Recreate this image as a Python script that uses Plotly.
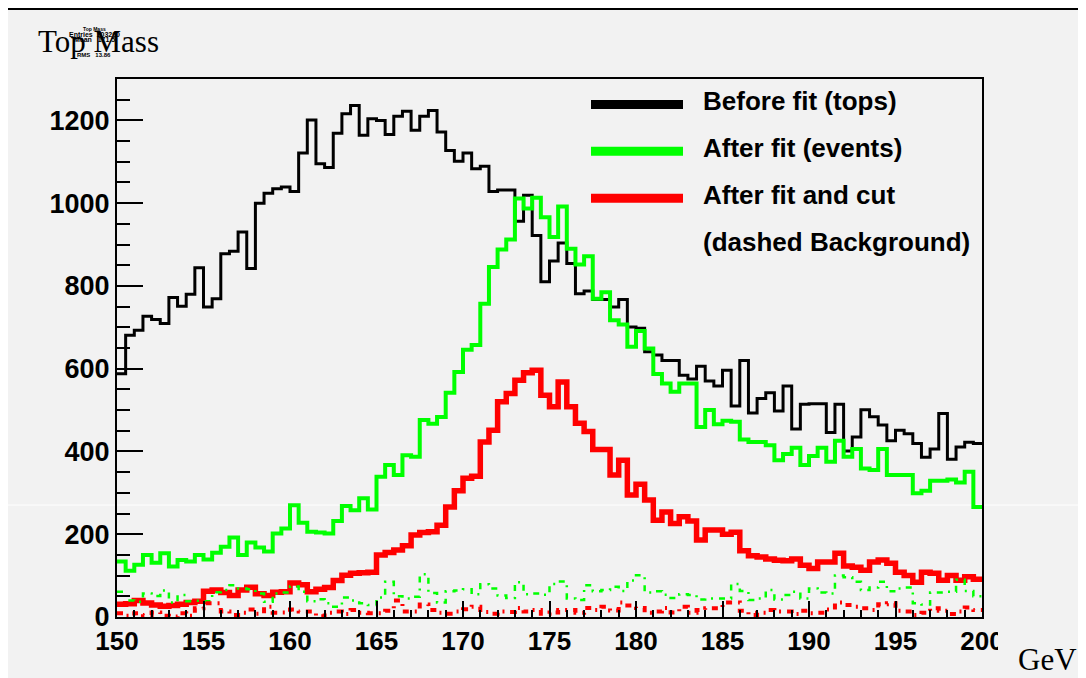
import plotly.graph_objects as go

# ---------------- data (100 bins of 0.5 GeV from 150 to 200) ----------------
x_min = 150.0
bin_width = 0.5

before_fit_tops = [588, 681, 693, 727, 719, 709, 772, 751, 780, 844,
                   749, 769, 878, 884, 930, 842, 1000, 1024, 1035, 1039,
                   1028, 1121, 1201, 1095, 1086, 1169, 1216, 1236, 1164, 1204,
                   1200, 1166, 1210, 1222, 1176, 1210, 1224, 1172, 1127, 1101,
                   1121, 1083, 1089, 1028, 1032, 1032, 956, 1019, 922, 810,
                   860, 904, 854, 781, 788, 767, 767, 749, 767, 701,
                   698, 641, 633, 620, 620, 584, 575, 606, 570, 558,
                   596, 510, 620, 493, 528, 542, 498, 558, 454, 514,
                   515, 515, 446, 514, 401, 435, 501, 484, 464, 426,
                   451, 443, 419, 386, 406, 492, 381, 411, 422, 419]

after_fit_events = [134, 112, 126, 150, 131, 154, 122, 138, 134, 150,
                    139, 155, 170, 192, 150, 180, 168, 158, 202, 214,
                    270, 228, 206, 204, 202, 232, 268, 258, 287, 260,
                    339, 367, 343, 391, 387, 476, 467, 483, 542, 592,
                    646, 657, 757, 846, 888, 912, 1011, 987, 1013, 966,
                    918, 992, 890, 852, 872, 769, 785, 717, 707, 653,
                    691, 649, 587, 564, 544, 564, 564, 459, 500, 466,
                    474, 472, 429, 423, 423, 415, 379, 394, 409, 367,
                    389, 409, 375, 426, 387, 406, 359, 355, 406, 343,
                    343, 343, 299, 305, 329, 329, 332, 325, 351, 266]

after_fit_and_cut = [31, 32, 40, 34, 29, 26, 28, 31, 35, 38,
                     62, 65, 59, 52, 65, 72, 56, 52, 60, 61,
                     82, 78, 61, 67, 71, 88, 101, 106, 107, 108,
                     150, 156, 162, 172, 198, 204, 206, 222, 266, 305,
                     335, 340, 423, 451, 520, 540, 572, 590, 596, 536,
                     508, 568, 508, 468, 448, 405, 405, 343, 379, 295,
                     321, 283, 234, 254, 226, 242, 232, 186, 210, 210,
                     200, 205, 160, 148, 145, 140, 137, 136, 140, 125,
                     117, 133, 133, 154, 123, 120, 113, 133, 138, 130,
                     108, 100, 84, 108, 106, 89, 100, 89, 97, 91]

events_background = [61, 40, 37, 57, 51, 64, 35, 53, 38, 39,
                     38, 60, 65, 77, 69, 67, 57, 37, 57, 59,
                     74, 61, 38, 43, 33, 25, 47, 40, 33, 29,
                     47, 85, 50, 45, 49, 103, 58, 35, 62, 64,
                     67, 55, 79, 69, 52, 46, 84, 55, 57, 54,
                     80, 86, 45, 41, 77, 62, 65, 73, 63, 88,
                     101, 59, 62, 54, 46, 55, 53, 42, 45, 45,
                     45, 80, 63, 41, 45, 65, 42, 53, 61, 45,
                     69, 59, 57, 100, 96, 85, 65, 71, 85, 62,
                     69, 71, 33, 30, 59, 59, 61, 90, 63, 50]

cut_background = [9, 3, 9, 5, 11, 3, 1, 9, 3, 21,
                  33, 33, 13, 5, 10, 18, 8, 25, 10, 11,
                  18, 13, 13, 2, 10, 13, 7, 17, 10, 9,
                  9, 15, 40, 13, 13, 30, 17, 10, 8, 13,
                  19, 25, 12, 8, 13, 12, 22, 13, 17, 8,
                  11, 17, 17, 10, 22, 17, 25, 16, 35, 28,
                  22, 10, 13, 22, 11, 25, 10, 17, 21, 21,
                  35, 35, 15, 5, 10, 17, 13, 13, 7, 15,
                  9, 10, 18, 35, 29, 25, 21, 17, 31, 33,
                  15, 13, 5, 10, 21, 15, 7, 13, 23, 17]

legend_labels = ["Before fit (tops)", "After fit (events)", "After fit and cut", "(dashed Background)"]
x_tick_values = [150, 155, 160, 165, 170, 175, 180, 185, 190, 195, 200]
y_tick_values = [0, 200, 400, 600, 800, 1000, 1200]

# ---------------- helpers ----------------
BG = "#f2f2f2"
GREEN = "#00ff00"
RED = "#ff0000"
SANS = "Liberation Sans, Arial, Helvetica, sans-serif"
SERIF = "Liberation Serif, Times New Roman, serif"

# screen-pixel -> paper coordinates (plot area on screen: x 117..982, y 79..617)
def pxx(sx):
    return (sx - 117.0) / 865.0

def pxy(sy):
    return (617.0 - sy) / 538.0

n = len(before_fit_tops)
edges = [x_min + i * bin_width for i in range(n + 1)]

def step_trace(vals, color, width, dash="solid"):
    return go.Scatter(x=edges, y=list(vals) + [vals[-1]], mode="lines",
                      line=dict(color=color, width=width, shape="hv", dash=dash),
                      hoverinfo="skip", showlegend=False)

fig = go.Figure()
fig.add_trace(step_trace(before_fit_tops, "black", 3))
fig.add_trace(step_trace(after_fit_events, GREEN, 4))
fig.add_trace(step_trace(after_fit_and_cut, RED, 5.5))
fig.add_trace(step_trace(events_background, GREEN, 2.5, "6px,6px,2px,6px"))
fig.add_trace(step_trace(cut_background, RED, 4, "6px,6px,2px,6px"))

shapes = []
# white rendering line across the canvas
shapes.append(dict(type="line", xref="paper", yref="paper", x0=pxx(0), x1=pxx(1090),
                   y0=pxy(505), y1=pxy(505), line=dict(color="white", width=1), layer="below"))
# top canvas border
shapes.append(dict(type="rect", xref="paper", yref="paper", x0=pxx(7), x1=pxx(1090),
                   y0=pxy(10), y1=pxy(8), fillcolor="black", line=dict(width=0), layer="above"))
# clip of the last tick label
shapes.append(dict(type="rect", xref="paper", yref="paper", x0=pxx(998), x1=pxx(1015),
                   y0=pxy(650), y1=pxy(620), fillcolor=BG, line=dict(width=0), layer="above"))
# legend line samples
legend_colors = ["black", GREEN, RED]
legend_line_y = [104.5, 151.3, 198.3]
for c, yy in zip(legend_colors, legend_line_y):
    shapes.append(dict(type="line", xref="paper", yref="paper", x0=pxx(591), x1=pxx(683),
                       y0=pxy(yy), y1=pxy(yy), line=dict(color=c, width=9), layer="above"))

annotations = []
legend_text_y = [101, 148, 195, 242]
for lab, yy in zip(legend_labels, legend_text_y):
    annotations.append(dict(text=lab, xref="paper", yref="paper", x=pxx(701), y=pxy(yy),
                            xanchor="left", yanchor="middle", showarrow=False,
                            font=dict(family=SANS, size=26, color="black", weight="bold")))
# title and axis unit
annotations.append(dict(text="Top Mass", xref="paper", yref="paper", x=pxx(36), y=pxy(41),
                        xanchor="left", yanchor="middle", showarrow=False,
                        font=dict(family=SERIF, size=31, color="black")))
annotations.append(dict(text="GeV", xref="paper", yref="paper", x=pxx(1079), y=pxy(659),
                        xanchor="right", yanchor="middle", showarrow=False,
                        font=dict(family=SERIF, size=31, color="black")))
# tiny (collapsed) statistics box drawn over the title, as in the reference
stats_lines = [("Top Mass", 29, 5), ("Entries  103200", 34, 7), ("Mean   171.5", 40, 7), ("RMS   13.86", 55, 6)]
for t, yy, fs in stats_lines:
    annotations.append(dict(text=t, xref="paper", yref="paper", x=pxx(94), y=pxy(yy),
                            xanchor="center", yanchor="middle", showarrow=False,
                            font=dict(family=SANS, size=fs, color="black", weight="bold")))

fig.update_layout(
    width=1078, height=670, autosize=False,
    margin=dict(l=109, r=104, t=71, b=61, pad=0),
    paper_bgcolor=BG, plot_bgcolor=BG,
    showlegend=False,
    shapes=shapes, annotations=annotations,
    xaxis=dict(range=[150, 200], tickvals=x_tick_values, ticktext=[str(v) for v in x_tick_values],
               showgrid=False, zeroline=False,
               showline=True, linecolor="black", linewidth=2, mirror=True,
               ticks="inside", ticklen=16, tickwidth=1.5, tickcolor="black",
               minor=dict(dtick=1, tick0=150, ticks="inside", ticklen=7, tickwidth=1.5, tickcolor="black"),
               tickfont=dict(family=SANS, size=26, color="black", weight="bold")),
    yaxis=dict(range=[0, 1300], tickvals=y_tick_values, ticktext=[str(v) for v in y_tick_values],
               showgrid=False, zeroline=False,
               showline=True, linecolor="black", linewidth=2, mirror=True,
               ticks="inside", ticklen=26, tickwidth=1.5, tickcolor="black",
               minor=dict(dtick=50, tick0=0, ticks="inside", ticklen=13, tickwidth=1.5, tickcolor="black"),
               tickfont=dict(family=SANS, size=27, color="black", weight="bold")),
)

fig.write_html("out.html")
